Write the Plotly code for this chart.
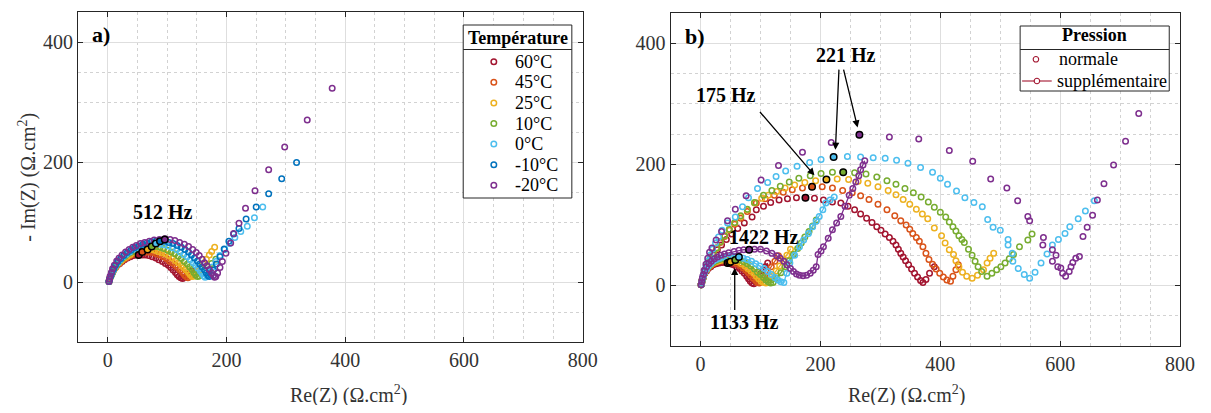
import plotly.graph_objects as go

# ---------------- Panel a) : temperature series ----------------
temps = ["60°C", "45°C", "25°C", "10°C", "0°C", "-10°C", "-20°C"]
colors = ["#A2142F", "#D95319", "#EDB120", "#77AC30", "#4DBEEE", "#0072BD", "#7E2F8E"]

a_x_60 = [2,3,4,6,8,10,13,16,20,24,28,33,38,43,48,52,58,63,69,75,81,86,92,97,102,106,110,114,117,120,123,126,129,133,137,142]
a_y_60 = [1,4,8,12,16,20,24,28,31,34,37,40,42,44,45,45,45,45,44,42,40,37,34,31,28,24,20,16,12,9,7,6,8,11,14,18]
a_x_45 = [2,3,4,6,8,11,14,18,22,26,31,36,41,47,52,58,64,70,76,82,88,94,99,104,109,114,118,122,126,129,132,135,138,142,147,152,157]
a_y_45 = [1,4,8,13,17,22,26,30,34,37,40,43,46,48,49,50,50,50,49,47,45,42,39,35,32,28,24,20,16,12,9,7,9,12,16,20,25]
a_x_25 = [2,3,5,7,9,12,15,19,23,28,33,38,44,50,56,61,67,73,79,85,91,97,103,109,114,119,124,128,132,136,139,142,145,148,152,156,161,166,171,175,180]
a_y_25 = [1,5,9,14,18,23,28,32,36,40,43,46,49,51,53,54,54,54,53,51,49,47,44,40,36,32,28,24,20,16,12,9,10,13,18,24,31,38,45,51,58]
a_x_10 = [2,3,5,7,9,12,16,20,24,29,34,40,46,52,58,64,70,74,81,88,94,101,107,113,119,124,129,134,138,142,145,148,151,154,158,163,169,175,182]
a_y_10 = [1,5,9,14,20,25,30,35,39,43,47,50,53,56,58,59,60,60,59,58,56,53,50,47,43,39,34,30,25,21,16,12,9,10,14,19,25,31,38]
a_x_0 = [2,3,5,7,10,13,17,21,26,31,37,43,49,56,62,69,75,81,88,95,102,109,116,122,128,134,139,144,148,152,156,159,162,164,167,171,176,182,189,197,205,214,224,235,247,261]
a_y_0 = [1,5,10,15,21,27,32,37,42,46,50,54,57,59,61,63,64,64,63,62,60,57,54,50,46,42,37,32,28,23,18,14,10,8,11,17,25,34,44,54,64,74,84,93,107,125]
a_x_m10 = [2,3,5,7,10,13,17,22,27,33,39,45,52,59,66,74,81,88,95,103,110,117,124,130,136,141,146,151,155,159,163,166,169,171,174,178,183,189,196,204,212,221,233,250,271,293,318]
a_y_m10 = [1,5,10,16,22,28,34,39,44,49,53,57,60,63,65,67,68,68,68,66,64,61,58,54,50,45,40,35,30,25,20,15,11,9,12,20,30,42,55,68,80,89,105,125,147,172,199]
a_x_m20 = [2,3,4,6,8,11,15,19,24,30,36,42,48,55,62,70,78,87,96,105,113,121,129,136,143,149,154,159,163,167,171,175,178,180,182,185,189,193,199,207,212,221,232,248,271,298,336,378]
a_y_m20 = [1,5,10,16,22,28,35,40,45,50,54,58,61,64,66,68,70,71,72,71,69,66,63,59,54,49,44,38,32,27,21,15,11,8,9,15,24,34,48,65,81,98,123,152,187,225,270,323]

a_xs = [a_x_60, a_x_45, a_x_25, a_x_10, a_x_0, a_x_m10, a_x_m20]
a_ys = [a_y_60, a_y_45, a_y_25, a_y_10, a_y_0, a_y_m10, a_y_m20]

# 512 Hz points
a_hz_x = [52, 58, 67, 74, 81, 88, 96]
a_hz_y = [45, 50, 54, 59, 64, 68, 71]

# ---------------- Panel b) : pressure series ----------------
b_colors = ["#A2142F", "#D95319", "#EDB120", "#77AC30", "#4DBEEE", "#7E2F8E"]

# normal pressure (markers only)
n_x_60 = [1,2,4,6,9,13,17,22,28,35,43,52,62,73,86,93,105,117,131,145,160,175,190,205,220,234,246,257,267,277,286,294,301,308,315,321,326,330,334,338,342,347,352,357,362,367,371,376,382,390]
n_y_60 = [1,6,12,19,26,34,42,50,59,67,76,85,94,103,113,125,131,137,141,143,145,145,144,141,138,136,131,125,118,111,104,97,91,85,79,73,67,60,53,47,41,34,27,20,14,8,5,10,20,31]
n_x_45 = [1,2,4,6,9,12,16,21,27,33,40,48,57,67,78,93,108,123,138,153,170,186,203,220,237,253,267,281,296,311,324,334,343,349,354,360,365,371,376,381,387,393,399,405,411,417,421,426,430]
n_y_45 = [1,6,12,19,27,35,44,53,62,71,81,91,101,111,122,136,143,149,154,158,161,163,163,161,157,153,148,142,134,125,115,107,100,93,86,79,73,64,53,43,35,27,20,14,9,7,15,26,34]
n_x_25 = [1,2,4,6,9,12,16,21,27,33,40,48,57,67,78,90,102,113,127,141,157,174,192,210,228,247,263,279,296,313,326,338,349,360,370,379,390,402,408,415,422,426,431,437,444,453,462,472,478,483,489]
n_y_25 = [1,6,12,19,27,35,44,53,62,72,82,92,103,114,125,136,144,149,155,161,166,170,173,175,176,175,172,169,163,157,150,142,134,126,118,110,95,82,70,59,51,41,31,22,15,12,17,26,37,45,53]
n_x_10 = [1,2,4,6,9,12,16,21,27,33,40,48,57,67,78,90,105,119,133,148,164,183,201,220,238,257,276,294,311,326,341,355,368,380,390,400,409,415,421,426,431,436,440,447,453,458,463,469,478,486,494,501,508,515,522,532,546,553]
n_y_10 = [1,6,12,19,27,35,44,53,62,72,82,93,104,115,126,137,149,157,164,171,177,181,185,187,187,186,184,179,173,167,160,153,146,138,129,121,113,105,97,90,82,76,71,60,50,40,31,23,15,20,26,31,37,44,51,64,75,85]
n_x_0 = [1,2,4,6,9,12,16,20,25,30,36,45,58,70,80,95,112,126,142,161,182,201,222,245,267,288,308,327,346,367,387,400,412,427,441,456,470,479,488,500,513,513,520,521,530,540,549,558,568,578,587,597,608,616,630,642,657]
n_y_0 = [1,7,14,22,31,40,50,60,70,80,91,103,113,130,145,160,170,180,189,197,203,208,212,213,212,211,210,207,202,195,187,177,167,156,145,137,130,109,96,91,76,67,53,40,28,18,12,22,37,52,67,76,86,97,110,123,140]
n_x_m20 = [1,2,4,6,9,12,15,19,26,35,45,58,76,101,130,170,218,265,315,364,415,454,484,511,529,546,549,571,572,587,587,593,596,601,604,609,615,618,621,626,632,638,645,654,662,673,689,709,731]
n_y_m20 = [1,8,16,25,35,45,55,62,75,89,107,126,148,174,198,220,236,249,245,242,223,205,176,161,140,114,107,67,79,59,40,50,31,29,20,15,23,31,38,45,48,81,96,116,141,168,199,238,284]

n_xs = [n_x_60, n_x_45, n_x_25, n_x_10, n_x_0, n_x_m20]
n_ys = [n_y_60, n_y_45, n_y_25, n_y_10, n_y_0, n_y_m20]

# additional pressure (lines + markers)
s_x_60 = [1,2,3,5,7,10,13,17,21,26,31,36,41,45,50,55,60,65,69,73,77,80,83,86,89,92,96,100,104,108,112]
s_y_60 = [1,5,10,15,20,24,28,31,34,36,37,38,38,37,36,34,31,28,24,20,15,11,7,4,3,6,12,19,25,31,37]
s_x_45 = [1,2,3,5,7,10,13,17,21,26,31,36,42,48,54,60,66,71,76,80,84,88,92,95,98,102,107,112,118,124,130]
s_y_45 = [1,5,10,16,21,26,30,33,36,38,40,41,41,40,38,36,33,29,25,21,17,12,8,5,4,8,15,23,31,40,49]
s_x_25 = [1,2,3,5,7,10,13,17,21,26,31,37,43,50,56,62,68,74,79,84,89,93,97,101,105,109,114,120,126,132,138,144,150]
s_y_25 = [1,5,10,16,21,26,30,34,37,39,41,42,43,42,41,39,36,32,28,24,20,15,11,7,5,4,9,16,24,32,41,50,60]
s_x_10 = [1,2,3,5,7,10,13,17,21,26,31,37,44,51,58,65,72,78,84,90,95,100,105,109,113,117,121,127,134,141,148,155,162,168,174,181,187,193]
s_y_10 = [1,5,10,16,22,27,31,35,38,41,43,44,45,45,44,42,39,36,32,27,22,18,13,9,6,4,5,12,21,31,41,51,61,70,80,89,98,108]
s_x_0 = [1,2,3,5,7,10,13,17,21,26,32,38,45,52,58,64,71,78,85,92,99,106,112,118,124,129,134,139,144,149,157,165,172,180,187,193,198,204,209,216,223]
s_y_0 = [1,5,10,16,22,27,32,36,40,43,45,47,48,49,48,47,45,43,40,36,32,28,23,18,13,9,6,5,20,37,50,64,75,86,97,106,114,125,136,141,146]
s_x_m20 = [1,2,3,5,7,10,14,18,23,28,34,40,47,56,64,72,81,90,100,110,119,127,133,139,144,150,155,160,165,171,177,183,188,193,196,201,205,213,220,227,234,241,248,254,259,264,267,271,274]
s_y_m20 = [1,6,12,18,24,31,36,40,44,47,50,52,54,56,58,59,59,60,60,57,53,49,45,40,34,28,23,19,17,16,17,20,25,31,51,57,64,78,92,103,114,131,149,160,171,181,191,199,206]

s_xs = [s_x_60, s_x_45, s_x_25, s_x_10, s_x_0, s_x_m20]
s_ys = [s_y_60, s_y_45, s_y_25, s_y_10, s_y_0, s_y_m20]

# highlighted frequency points
b_n_hz_x = [175, 186, 210, 238, 222, 265]
b_n_hz_y = [145, 163, 175, 187, 212, 249]
b_s_hz_x = [45, 48, 50, 58, 64, 81]
b_s_hz_y = [37, 38, 39, 42, 47, 59]

pressures = ["normale", "supplémentaire"]

FONT = "Liberation Serif, Tinos, Times New Roman, DejaVu Serif, serif"
MS = 5.5
MLW = 1.5
# the page body adds an 8 px margin on every side; keep the page exactly 1211 x 413
OX, OY = 8, 8
W, H = 1211 - 2 * OX, 413 - 2 * OY

fig = go.Figure()

# ---- panel a traces
for c, xs, ys in zip(colors, a_xs, a_ys):
    fig.add_trace(go.Scatter(x=xs, y=ys, mode="markers",
                             marker=dict(symbol="circle-open", size=MS, color=c, line=dict(width=MLW)),
                             xaxis="x", yaxis="y", showlegend=False))
fig.add_trace(go.Scatter(x=a_hz_x, y=a_hz_y, mode="markers",
                         marker=dict(symbol="circle", size=MS + 1, color=colors, line=dict(width=MLW, color="black")),
                         xaxis="x", yaxis="y", showlegend=False))

# ---- panel b traces
for c, xs, ys in zip(b_colors, n_xs, n_ys):
    fig.add_trace(go.Scatter(x=xs, y=ys, mode="markers",
                             marker=dict(symbol="circle-open", size=MS, color=c, line=dict(width=MLW)),
                             xaxis="x2", yaxis="y2", showlegend=False))
for c, xs, ys in zip(b_colors, s_xs, s_ys):
    fig.add_trace(go.Scatter(x=xs, y=ys, mode="lines+markers",
                             line=dict(color=c, width=1.3),
                             marker=dict(symbol="circle-open", size=MS, color=c, line=dict(width=MLW)),
                             xaxis="x2", yaxis="y2", showlegend=False))
fig.add_trace(go.Scatter(x=b_n_hz_x + b_s_hz_x, y=b_n_hz_y + b_s_hz_y, mode="markers",
                         marker=dict(symbol="circle", size=MS + 1, color=b_colors + b_colors,
                                     line=dict(width=MLW, color="black")),
                         xaxis="x2", yaxis="y2", showlegend=False))

# ---- legend keys on a pixel overlay axis (x3/y3: value == screen pixel)
leg_a_x = 500
leg_a_y = [61.7, 82.3, 102.9, 123.5, 144.1, 164.7, 185.3]
fig.add_trace(go.Scatter(x=[leg_a_x] * len(temps), y=leg_a_y, mode="markers",
                         marker=dict(symbol="circle-open", size=MS, color=colors, line=dict(width=MLW)),
                         xaxis="x3", yaxis="y3", showlegend=False, hoverinfo="skip"))
fig.add_trace(go.Scatter(x=[1049], y=[59.3], mode="markers",
                         marker=dict(symbol="circle-open", size=MS, color=colors[0], line=dict(width=1.1)),
                         xaxis="x3", yaxis="y3", showlegend=False, hoverinfo="skip"))
fig.add_trace(go.Scatter(x=[1035, 1050, 1065], y=[81, 81, 81], mode="lines",
                         line=dict(color=colors[0], width=1.1),
                         xaxis="x3", yaxis="y3", showlegend=False, hoverinfo="skip"))
fig.add_trace(go.Scatter(x=[1050], y=[81], mode="markers",
                         marker=dict(symbol="circle", size=MS, color="white", line=dict(width=1.1, color=colors[0])),
                         xaxis="x3", yaxis="y3", showlegend=False, hoverinfo="skip"))


def axis_common():
    return dict(showline=True, linecolor="#262626", linewidth=1, mirror="ticks",
                ticks="inside", ticklen=5, tickcolor="#262626", tickwidth=1,
                showgrid=True, gridcolor="#dedede", gridwidth=1, zeroline=False,
                tickfont=dict(family=FONT, size=20, color="#333333"),
                minor=dict(dtick=50, showgrid=True, gridcolor="#d2d2d2", griddash="dot", gridwidth=1, ticks=""),
                dtick=200, tick0=0)


def xdom(p0, p1):
    return [(p0 - OX) / W, (p1 - OX) / W]


def ydom(top, bottom):
    return [(H - (bottom - OY)) / H, (H - (top - OY)) / H]


xa = axis_common(); xa.update(range=[-50, 800], domain=xdom(79, 590), anchor="y")
ya = axis_common(); ya.update(range=[-100, 450], domain=ydom(12, 342), anchor="x")
xb = axis_common(); xb.update(range=[-50, 800], domain=xdom(679, 1195), anchor="y2")
yb = axis_common(); yb.update(range=[-100, 450], domain=ydom(13, 346), anchor="x2")
x3 = dict(range=[OX, W + OX], domain=[0, 1], visible=False, anchor="y3", fixedrange=True)
y3 = dict(range=[H + OY, OY], domain=[0, 1], visible=False, anchor="x3", fixedrange=True)

P = dict(xref="x3", yref="y3")
ann = []


def txt(text, x, y, size, color="black", **kw):
    d = dict(text=text, x=x, y=y, showarrow=False, font=dict(family=FONT, size=size, color=color))
    d.update(P)
    d.update(kw)
    ann.append(d)


def arrow(x, y, ax, ay):
    ann.append(dict(text="", x=x, y=y, ax=ax, ay=ay, xref="x2", yref="y2", axref="x2", ayref="y2",
                    showarrow=True, arrowhead=2, arrowsize=1.1, arrowwidth=1.3, arrowcolor="black"))


# panel labels and frequency labels (data coords)
ann.append(dict(text="<b>a)</b>", x=-12, y=413, xref="x", yref="y", showarrow=False,
                font=dict(family=FONT, size=22, color="black")))
ann.append(dict(text="<b>b)</b>", x=-10, y=411, xref="x2", yref="y2", showarrow=False,
                font=dict(family=FONT, size=22, color="black")))
ann.append(dict(text="<b>512 Hz</b>", x=93, y=117, xref="x", yref="y", showarrow=False,
                font=dict(family=FONT, size=20, color="black")))
for t, x, y in [("<b>1422 Hz</b>", 106, 80), ("<b>1133 Hz</b>", 73, -61),
                ("<b>175 Hz</b>", 42, 314), ("<b>221 Hz</b>", 243, 380)]:
    ann.append(dict(text=t, x=x, y=y, xref="x2", yref="y2", showarrow=False,
                    font=dict(family=FONT, size=20, color="black")))
arrow(190, 182, 97, 289)
arrow(225, 224, 231, 359)
arrow(262, 261, 238, 359)
arrow(57, 29, 57, -43)

# axis titles (pixel overlay)
txt("Re(Z) (Ω.cm<sup>2</sup>)", 353, 394, 20, "#333333")
txt("Re(Z) (Ω.cm<sup>2</sup>)", 918, 394, 20, "#333333")
txt("- Im(Z) (Ω.cm<sup>2</sup>)", 27, 177, 20, "#333333", textangle=-90)

# legend texts
txt("<b>Température</b>", 524, 38, 18)
for t, y in zip(temps, leg_a_y):
    txt(t, 519, y, 18, xanchor="left")
txt("<b>Pression</b>", 1108, 35, 18)
txt(pressures[0], 1070, 59.3, 18, xanchor="left")
txt(pressures[1], 1068, 81, 18, xanchor="left")

shapes = [
    dict(type="rect", x0=469, x1=579, y0=25, y1=198, line=dict(color="#262626", width=1),
         fillcolor="white", layer="below", **P),
    dict(type="line", x0=469, x1=579, y0=49.5, y1=49.5, line=dict(color="#262626", width=1), **P),
    dict(type="rect", x0=1033, x1=1184, y0=26, y1=91, line=dict(color="#262626", width=1),
         fillcolor="white", layer="below", **P),
    dict(type="line", x0=1033, x1=1184, y0=49.5, y1=49.5, line=dict(color="#262626", width=1), **P),
]

fig.update_layout(
    width=W, height=H,
    margin=dict(l=0, r=0, t=0, b=0),
    paper_bgcolor="white", plot_bgcolor="rgba(0,0,0,0)",
    xaxis=xa, yaxis=ya, xaxis2=xb, yaxis2=yb, xaxis3=x3, yaxis3=y3,
    annotations=ann, shapes=shapes,
    showlegend=False,
    hovermode=False,
)

fig.write_html("out.html")
